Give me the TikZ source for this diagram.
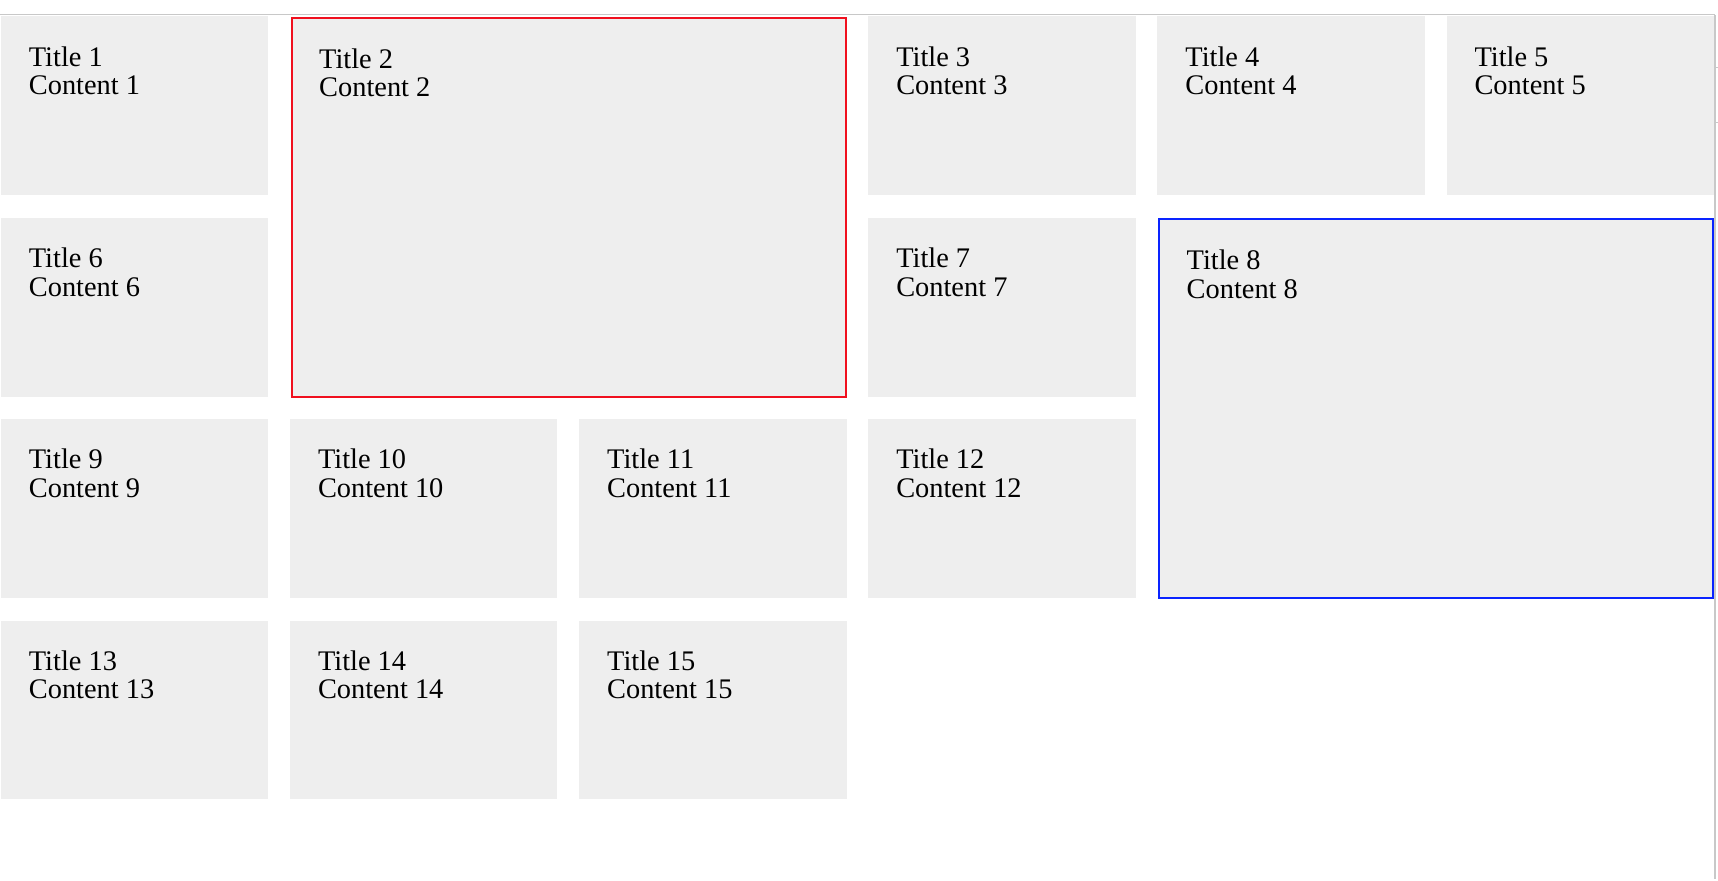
\documentclass[tikz,border=0pt]{standalone}
\usepackage{fontspec}
\setmainfont{Liberation Serif}
\definecolor{cellgray}{HTML}{EEEEEE}
\definecolor{edgegray}{HTML}{C8C8C8}
\definecolor{hotred}{HTML}{F0101E}
\definecolor{hotblue}{HTML}{0A24FF}

\begin{document}
\begin{tikzpicture}[x=0.5pt,y=-0.5pt,
  cell/.style={fill=cellgray,anchor=north west,inner sep=0pt,
    minimum width=133.75pt,minimum height=89.5pt},
  bigcell/.style={cell,minimum width=277pt,minimum height=189.5pt,line width=1pt},
  txt/.style={anchor=north west,inner sep=0pt,align=left,
    font=\fontsize{14.2}{14.3}\selectfont}]
% page and frame lines
\fill[white] (0,0) rectangle (1718,880);
\draw[edgegray,line width=0.5pt] (0,15) -- (1715,15);
\draw[edgegray,line width=1pt] (1715,15) -- (1715,880);
\draw[edgegray,line width=0.5pt] (1716,68) -- (1718,68);
\draw[edgegray,line width=0.5pt] (1716,123) -- (1718,123);

% row 1
\node[cell] (b1) at (0,16) {};
\node[bigcell,draw=hotred] (b2) at (290.5,17) {};
\node[cell] (b3) at (867.9,16) {};
\node[cell] (b4) at (1157.2,16) {};
\node[cell] (b5) at (1446.5,16) {};
% row 2
\node[cell] (b6) at (0,217.5) {};
\node[cell] (b7) at (867.9,217.5) {};
\node[bigcell,draw=hotblue] (b8) at (1158.5,218.5) {};
% row 3
\node[cell] (b9) at (0,419) {};
\node[cell] (b10) at (289.3,419) {};
\node[cell] (b11) at (578.6,419) {};
\node[cell] (b12) at (867.9,419) {};
% row 4
\node[cell] (b13) at (0,620.5) {};
\node[cell] (b14) at (289.3,620.5) {};
\node[cell] (b15) at (578.6,620.5) {};

% labels
\node[txt] (t1) at ([shift={(28,30)}]b1.north west) {Title 1\\Content 1};
\node[txt] (t2) at ([shift={(28,31)}]b2.north west) {Title 2\\Content 2};
\node[txt] (t3) at ([shift={(28,30)}]b3.north west) {Title 3\\Content 3};
\node[txt] (t4) at ([shift={(28,30)}]b4.north west) {Title 4\\Content 4};
\node[txt] (t5) at ([shift={(28,30)}]b5.north west) {Title 5\\Content 5};
\node[txt] (t6) at ([shift={(28,30)}]b6.north west) {Title 6\\Content 6};
\node[txt] (t7) at ([shift={(28,30)}]b7.north west) {Title 7\\Content 7};
\node[txt] (t8) at ([shift={(28,31)}]b8.north west) {Title 8\\Content 8};
\node[txt] (t9) at ([shift={(28,30)}]b9.north west) {Title 9\\Content 9};
\node[txt] (t10) at ([shift={(28,30)}]b10.north west) {Title 10\\Content 10};
\node[txt] (t11) at ([shift={(28,30)}]b11.north west) {Title 11\\Content 11};
\node[txt] (t12) at ([shift={(28,30)}]b12.north west) {Title 12\\Content 12};
\node[txt] (t13) at ([shift={(28,30)}]b13.north west) {Title 13\\Content 13};
\node[txt] (t14) at ([shift={(28,30)}]b14.north west) {Title 14\\Content 14};
\node[txt] (t15) at ([shift={(28,30)}]b15.north west) {Title 15\\Content 15};
\end{tikzpicture}
\end{document}
